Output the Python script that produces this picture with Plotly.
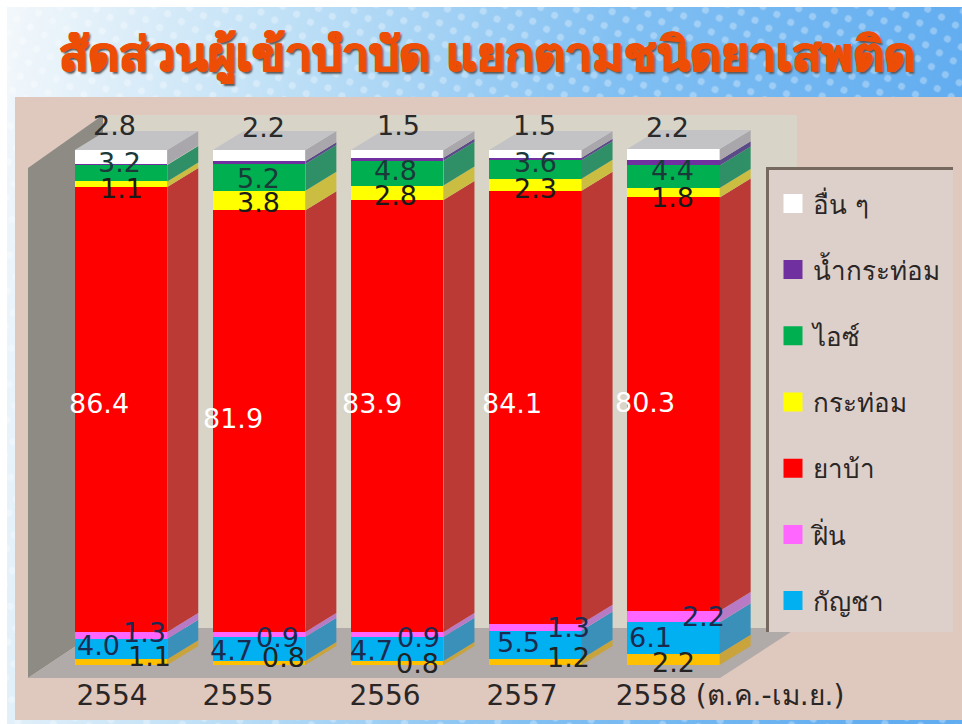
import base64
import plotly.graph_objects as go

# ---------- data ----------
categories = ["2554", "2555", "2556", "2557", "2558 (ต.ค.-เม.ย.)"]
title_text = "สัดส่วนผู้เข้าบำบัด แยกตามชนิดยาเสพติด"
unlisted = [1.1, 0.8, 0.8, 1.2, 2.2]      # orange band, not in the legend
cannabis = [4.0, 4.7, 4.7, 5.5, 6.1]
opium = [1.3, 0.9, 0.9, 1.3, 2.2]
yaba = [86.4, 81.9, 83.9, 84.1, 80.3]
kratom = [1.1, 3.8, 2.8, 2.3, 1.8]
ice = [3.2, 5.2, 4.8, 3.6, 4.4]
kratom_water = [0.1, 0.5, 0.6, 0.5, 1.0]  # unlabelled, read from the stripe
other = [2.8, 2.2, 1.5, 1.5, 2.2]

series = [
    ("ส้ม", unlisted, "#ffc000", "#c9a43c", "#222222"),
    ("กัญชา", cannabis, "#00b0f0", "#3a90b8", "#1c2a50"),
    ("ฝิ่น", opium, "#ff66ff", "#b87ac4", "#1c2a50"),
    ("ยาบ้า", yaba, "#ff0000", "#bb3a36", "#ffffff"),
    ("กระท่อม", kratom, "#ffff00", "#cbbc42", "#1a1a1a"),
    ("ไอซ์", ice, "#00b050", "#2f9068", "#1a3a3a"),
    ("น้ำกระท่อม", kratom_water, "#7030a0", "#5a4a88", "#222222"),
    ("อื่น ๆ", other, "#ffffff", "#a9a7ab", "#2a2a2a"),
]
legend_order = ["อื่น ๆ", "น้ำกระท่อม", "ไอซ์", "กระท่อม", "ยาบ้า", "ฝิ่น", "กัญชา"]

# ---------- placement (pixels of the 962x724 page) ----------
W, H, PLOT_H = 962, 724, 676
X0_PX, X_STEP = 121.0, 138.1
Y0_PX, Y_UNIT = 665.0, 5.15
BAR_W = 0.67
DX, DY = 31 / X_STEP, 19 / Y_UNIT


def PX(x):
    return x / W


def PY(y):
    return 1 - y / PLOT_H


tick_px = [112, 238, 385, 522, 730]
label_px = {
    "ส้ม": [(149, 656), (283, 657), (417, 663), (568, 657), (673, 662)],
    "กัญชา": [(98, 645), (231, 650), (371, 650), (518, 642), (650, 637)],
    "ฝิ่น": [(144, 632), (277, 637), (418, 637), (568, 627), (703, 616)],
    "ยาบ้า": [(99, 403), (233, 418), (372, 403), (512, 403), (645, 402)],
    "กระท่อม": [(121, 189), (258, 203), (395, 196), (535, 189), (672, 197)],
    "ไอซ์": [(119, 162), (258, 179), (395, 170), (535, 162), (672, 170)],
    "อื่น ๆ": [(114, 126), (263, 127), (398, 126), (534, 126), (667, 127)],
}

fig = go.Figure()
xs = list(range(len(categories)))

# bars and their 3-D side faces, built from the data
base = [0.0] * len(xs)
for name, vals, col, side, _ in series:
    fig.add_trace(go.Bar(x=xs, y=vals, width=BAR_W, name=name, showlegend=False,
                         marker=dict(color=col, line=dict(width=0)), hoverinfo="skip"))
    sx, sy = [], []
    for i, v in enumerate(vals):
        r = i + BAR_W / 2
        lo, hi = base[i], base[i] + v
        sx += [r, r + DX, r + DX, r, r, None]
        sy += [lo, lo + DY, hi + DY, hi, lo, None]
        base[i] = hi
    fig.add_trace(go.Scatter(x=sx, y=sy, mode="lines", fill="toself", fillcolor=side,
                             line=dict(width=0), showlegend=False, hoverinfo="skip"))

# top faces
tx, ty = [], []
for i, top in enumerate(base):
    l, r = i - BAR_W / 2, i + BAR_W / 2
    tx += [l, r, r + DX, l + DX, l, None]
    ty += [top, top, top + DY, top + DY, top, None]
fig.add_trace(go.Scatter(x=tx, y=ty, mode="lines", fill="toself", fillcolor="#c3c3c6",
                         line=dict(width=0), showlegend=False, hoverinfo="skip"))

# legend entries
colors = {s[0]: s[2] for s in series}
for name in legend_order:
    fig.add_trace(go.Scatter(x=[None], y=[None], mode="markers", name=name, legendgroup=name,
                             marker=dict(symbol="square", size=16, color=colors[name],
                                         line=dict(width=[3], color=colors[name]))))

# value labels
ann = []
for name, vals, col, side, tcol in series:
    if name in label_px:
        for v, (lx, ly) in zip(vals, label_px[name]):
            ann.append(dict(x=PX(lx), y=PY(ly), xref="paper", yref="paper", text=f"{v:.1f}",
                            showarrow=False, xanchor="center", yanchor="middle",
                            font=dict(family="DejaVu Sans", size=27, color=tcol)))

# backdrop image: gradient with a dot screen
svg = f"""<svg xmlns='http://www.w3.org/2000/svg' width='{W}' height='{H}'>
<defs><linearGradient id='g' x1='0' x2='1' y1='0' y2='0.1'>
<stop offset='0' stop-color='#f4f8fb'/><stop offset='0.3' stop-color='#bfe0f6'/>
<stop offset='0.65' stop-color='#80bff2'/><stop offset='1' stop-color='#62adf0'/></linearGradient>
<pattern id='p' width='16' height='16' patternUnits='userSpaceOnUse' patternTransform='rotate(30)'>
<circle cx='8' cy='8' r='3.5' fill='#ffffff' fill-opacity='0.3'/></pattern></defs>
<rect width='{W}' height='{H}' fill='url(#g)'/><rect width='{W}' height='{H}' fill='url(#p)'/></svg>"""
uri = "data:image/svg+xml;base64," + base64.b64encode(svg.encode()).decode()


def rect(x0, y0, x1, y1, color):
    return dict(type="rect", xref="paper", yref="paper", x0=PX(x0), x1=PX(x1), y0=PY(y1), y1=PY(y0),
                fillcolor=color, line=dict(width=0), layer="below")


def poly(points, color):
    path = "M" + "L".join(f"{PX(a):.5f},{PY(b):.5f}" for a, b in points) + "Z"
    return dict(type="path", xref="paper", yref="paper", path=path, fillcolor=color,
                line=dict(width=0), layer="below")


shapes = [
    rect(0, 0, 7, 724, "#ffffff"),
    rect(0, 0, 962, 7, "#ffffff"),
    rect(15, 97, 962, 720, "#dfc8be"),
    rect(103, 115, 797, 628, "#d9d4c8"),
    poly([(28, 168), (103, 115), (103, 628), (28, 678)], "#8d8b84"),
    poly([(28, 678), (103, 628), (797, 628), (720, 678)], "#b0aaa9"),
    rect(766, 167, 953, 632, "#75695f"),
    rect(769, 170, 953, 632, "#ddd0cb"),
]

fig.update_layout(
    width=W, height=H, autosize=False,
    margin=dict(l=0, r=0, t=0, b=H - PLOT_H, pad=0),
    paper_bgcolor="#ffffff", plot_bgcolor="rgba(0,0,0,0)",
    barmode="stack", bargap=0,
    font=dict(family="DejaVu Sans", color="#2b2626"),
    title=dict(text=title_text, x=487 / W, xanchor="center", y=1 - 54 / H, yanchor="middle",
               font=dict(family="DejaVu Sans", size=48, color="#ee4d05", weight=700,
                         shadow="1px 0 0 #ee4d05, -1px 0 0 #ee4d05, 2px 2px 2px #555555")),
    xaxis=dict(range=[(0 - X0_PX) / X_STEP, (W - X0_PX) / X_STEP], showgrid=False, zeroline=False,
               showline=False, tickmode="array",
               tickvals=[(p - X0_PX) / X_STEP for p in tick_px], ticktext=categories,
               ticks="", tickfont=dict(family="DejaVu Sans", size=28, color="#2b2626"),
               ticklabelstandoff=0),
    yaxis=dict(range=[(Y0_PX - PLOT_H) / Y_UNIT, Y0_PX / Y_UNIT], visible=False),
    legend=dict(x=PX(773), y=PY(180), xanchor="left", yanchor="top", bgcolor="rgba(0,0,0,0)",
                traceorder="grouped", tracegroupgap=29.4, itemwidth=30,
                font=dict(family="DejaVu Sans", size=26, color="#2b2626")),
    images=[dict(source=uri, xref="paper", yref="paper", x=0, y=1, sizex=1, sizey=H / PLOT_H,
                 xanchor="left", yanchor="top", sizing="stretch", layer="below")],
    shapes=shapes, annotations=ann, showlegend=True,
)
fig.write_html("out.html", config={"displayModeBar": False},
               post_script="document.body.style.margin='0';document.body.style.overflow='hidden';")
